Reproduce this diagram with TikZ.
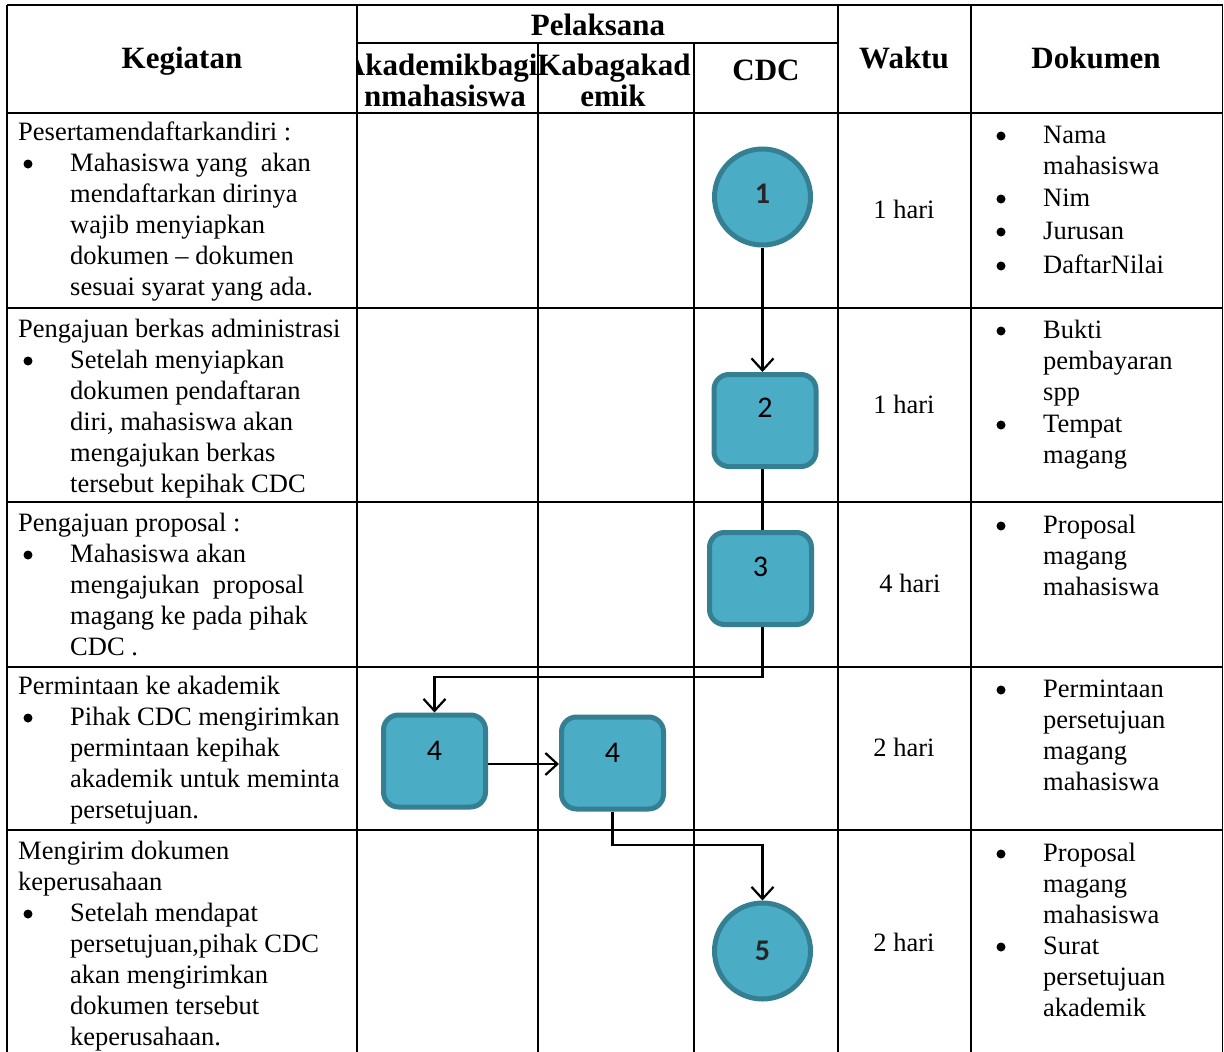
\documentclass[tikz,border=0pt]{standalone}
\usepackage{fontspec}
\setmainfont{Liberation Serif}
\newfontfamily\labfont{Carlito}
\usetikzlibrary{arrows.meta}
\definecolor{boxfill}{HTML}{4BACC6}
\definecolor{boxline}{HTML}{357F92}
\definecolor{labgray}{HTML}{262626}
\begin{document}
\begin{tikzpicture}[x=1pt,y=-1pt,
  tbl/.style={line width=1.3pt,black},
  body/.style={font=\fontsize{26.5}{31}\selectfont,inner sep=0pt,anchor=base west},
  ctr/.style={font=\fontsize{26.5}{31}\selectfont,inner sep=0pt,anchor=base},
  hdr/.style={font=\fontsize{31}{31}\selectfont\bfseries,inner sep=0pt,anchor=base},
  bul/.style={circle,fill=black,minimum size=9pt,inner sep=0pt},
  proc/.style={draw=boxline,fill=boxfill,line width=5pt,rounded corners=15pt,minimum width=102pt,minimum height=92pt,inner sep=0pt,font=\labfont\fontsize{30}{30}\selectfont},
  term/.style={draw=boxline,fill=boxfill,line width=5pt,circle,minimum size=96pt,inner sep=0pt,font=\labfont\bfseries\fontsize{30}{30}\selectfont,text=labgray},
  conn/.style={line width=2.2pt,black},
  arr/.style={conn,-{Straight Barb[length=12pt,width=22pt]}}
]
\useasboundingbox (0,0) rectangle (1224,1052);
\fill[white] (0,0) rectangle (1224,1052);

% ---------- table grid ----------
\draw[tbl] (7,5) -- (1222.5,5);
\draw[tbl] (357,43) -- (838,43);
\draw[tbl] (7,113) -- (1222.5,113);
\draw[tbl] (7,308) -- (1222.5,308);
\draw[tbl] (7,502) -- (1222.5,502);
\draw[tbl] (7,667) -- (1222.5,667);
\draw[tbl] (7,830) -- (1222.5,830);
\draw[tbl] (7,5) -- (7,1052);
\draw[tbl] (357,5) -- (357,1052);
\draw[tbl] (538,43) -- (538,1052);
\draw[tbl] (694,43) -- (694,1052);
\draw[tbl] (838,5) -- (838,1052);
\draw[tbl] (971,5) -- (971,1052);
\draw[tbl] (1222.5,5) -- (1222.5,1052);

% ---------- header ----------
\node[hdr] (hK) at (182,68) {Kegiatan};
\node[hdr] (hP) at (598,35) {Pelaksana};
\begin{scope}
  \clip (357.7,43.7) rectangle (537.3,112.3);
  \node[hdr] (hA1) at (448,75) {\makebox[170pt][c]{Akademikbagia}};
  \node[hdr] (hA2) at (445,106) {nmahasiswa};
\end{scope}
\node[hdr] (hB1) at (614,75) {Kabagakad};
\node[hdr] (hB2) at (613,106) {emik};
\node[hdr] (hC) at (766,80) {CDC};
\node[hdr] (hW) at (904,68) {Waktu};
\node[hdr] (hD) at (1096,68) {Dokumen};

% ---------- Kegiatan column ----------
\node[body] (k1t) at (18,140) {Pesertamendaftarkandiri :};
\node[bul] (k1b) at (28,164) {};
\node[body] (k1i) at (70,171) {\parbox[t]{285pt}{Mahasiswa yang\ \ akan\\mendaftarkan dirinya\\wajib menyiapkan\\dokumen -- dokumen\\sesuai syarat yang ada.}};

\node[body] (k2t) at (18,337) {Pengajuan berkas administrasi};
\node[bul] (k2b) at (28,361) {};
\node[body] (k2i) at (70,368) {\parbox[t]{285pt}{Setelah menyiapkan\\dokumen pendaftaran\\diri, mahasiswa akan\\mengajukan berkas\\tersebut kepihak CDC}};

\node[body] (k3t) at (18,531) {Pengajuan proposal :};
\node[bul] (k3b) at (28,555) {};
\node[body] (k3i) at (70,562) {\parbox[t]{285pt}{Mahasiswa akan\\mengajukan\ \ proposal\\magang ke pada pihak\\CDC .}};

\node[body] (k4t) at (18,694) {Permintaan ke akademik};
\node[bul] (k4b) at (28,718) {};
\node[body] (k4i) at (70,725) {\parbox[t]{285pt}{Pihak CDC mengirimkan\\permintaan kepihak\\akademik untuk meminta\\persetujuan.}};

\node[body] (k5t) at (18,859) {\parbox[t]{330pt}{Mengirim dokumen\\keperusahaan}};
\node[bul] (k5b) at (28,914) {};
\node[body] (k5i) at (70,921) {\parbox[t]{285pt}{Setelah mendapat\\persetujuan,pihak CDC\\akan mengirimkan\\dokumen tersebut\\keperusahaan.}};

% ---------- Waktu column ----------
\node[ctr] (w1) at (904,218) {1 hari};
\node[ctr] (w2) at (904,413) {1 hari};
\node[ctr] (w3) at (910,592) {4 hari};
\node[ctr] (w4) at (904,756) {2 hari};
\node[ctr] (w5) at (904,951) {2 hari};

% ---------- Dokumen column ----------
\node[bul] (d1b1) at (1001,136) {};
\node[body] (d1i1) at (1043,143) {\parbox[t]{170pt}{Nama\\mahasiswa}};
\node[bul] (d1b2) at (1001,199) {};
\node[body] (d1i2) at (1043,206) {Nim};
\node[bul] (d1b3) at (1001,232) {};
\node[body] (d1i3) at (1043,239) {Jurusan};
\node[bul] (d1b4) at (1001,266) {};
\node[body] (d1i4) at (1043,273) {DaftarNilai};

\node[bul] (d2b1) at (1001,331) {};
\node[body] (d2i1) at (1043,338) {\parbox[t]{170pt}{Bukti\\pembayaran\\spp}};
\node[bul] (d2b2) at (1001,425) {};
\node[body] (d2i2) at (1043,432) {\parbox[t]{170pt}{Tempat\\magang}};

\node[bul] (d3b1) at (1001,526) {};
\node[body] (d3i1) at (1043,533) {\parbox[t]{170pt}{Proposal\\magang\\mahasiswa}};

\node[bul] (d4b1) at (1001,690) {};
\node[body] (d4i1) at (1043,697) {\parbox[t]{170pt}{Permintaan\\persetujuan\\magang\\mahasiswa}};

\node[bul] (d5b1) at (1001,854) {};
\node[body] (d5i1) at (1043,861) {\parbox[t]{170pt}{Proposal\\magang\\mahasiswa}};
\node[bul] (d5b2) at (1001,947) {};
\node[body] (d5i2) at (1043,954) {\parbox[t]{170pt}{Surat\\persetujuan\\akademik}};

% ---------- flow shapes ----------
\node[term,text height=12pt,text depth=0pt] (c1) at (762.5,197) {1};
\node[proc,text height=0pt,text depth=7pt] (b2) at (765,420.5) {2};
\node[proc,text height=0pt,text depth=5pt] (b3) at (760.5,578.5) {3};
\node[proc,text height=0pt,text depth=2pt] (b4a) at (434.5,761) {4};
\node[proc,text height=0pt,text depth=2pt] (b4b) at (612.5,763) {4};
\node[term] (c5) at (762.5,951) {5};

% ---------- connectors ----------
\coordinate (j1) at (762.5,677);
\coordinate (j2) at (762.5,845);
\draw[arr] (c1.south) -- (c1.south |- b2.north);
\draw[conn] (b2.south -| c1.south) -- (b3.north -| c1.south);
\draw[arr] (j1 |- b3.south) -- (j1) -| (b4a.north);
\draw[arr] (b4a.east |- 0,764) -- (b4b.west |- 0,764);
\draw[arr] (b4b.south) |- (j2) -- (c5.north);
\end{tikzpicture}
\end{document}
